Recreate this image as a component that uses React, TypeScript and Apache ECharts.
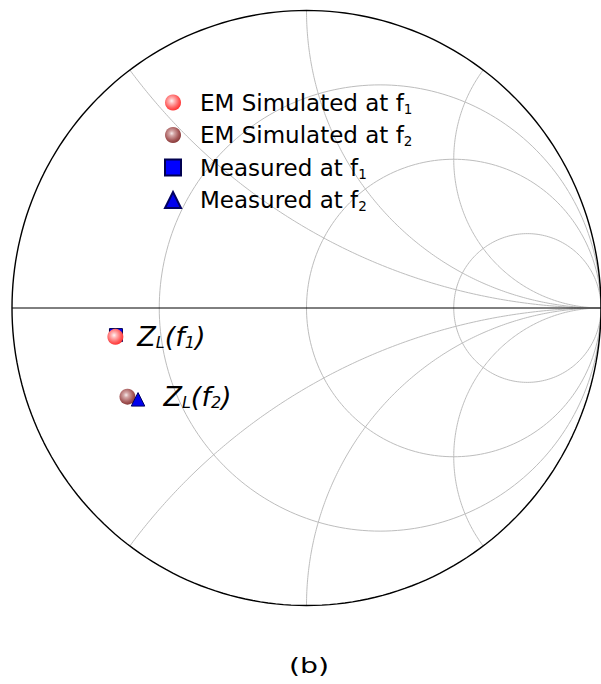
import React, { useEffect, useRef } from 'react';
import * as echarts from 'echarts';

// Smith chart grid: normalized resistance circles and reactance arcs
const resistanceCircles = [1 / 3, 1, 3];
const reactanceArcs = [0.5, 1, 2, -0.5, -1, -2];

// Reflection coefficients [Re Γ, Im Γ] of the load at both frequencies
const seriesNames = ['EM Simulated at f1', 'EM Simulated at f2', 'Measured at f1', 'Measured at f2'];
const simulatedF1 = [-0.649, -0.097];
const simulatedF2 = [-0.608, -0.298];
const measuredF1 = [-0.647, -0.091];
const measuredF2 = [-0.572, -0.307];
const loadLabels = ['{z|Z}{s|L}{z|(f}{s|1}{z|)}', '{z|Z}{s|L}{z|(f}{s|2}{z|)}'];
const caption = '(b)';

const FONT = '"DejaVu Sans", sans-serif';

function arcPoints(cx: number, cy: number, rad: number, a0: number, a1: number, n: number) {
  const pts: number[][] = [];
  for (let i = 0; i <= n; i++) {
    const a = a0 + ((a1 - a0) * i) / n;
    pts.push([cx + rad * Math.cos(a), cy + rad * Math.sin(a)]);
  }
  return pts;
}

// constant-resistance circle: centre r/(1+r), radius 1/(1+r)
function resistanceCircle(r: number) {
  return arcPoints(r / (1 + r), 0, 1 / (1 + r), 0, 2 * Math.PI, 240);
}

// constant-reactance arc from the open-circuit point to the rim
function reactanceArc(x: number) {
  const ax = Math.abs(x);
  let end = Math.atan2((ax * ax - 1) / ax, -2);
  if (end > -Math.PI / 2) end -= 2 * Math.PI;
  const pts = arcPoints(1, 1 / ax, 1 / ax, -Math.PI / 2, end, 200);
  return x < 0 ? pts.map(([u, v]) => [u, -v]) : pts;
}

function gridLine(data: number[][], color: string, width: number) {
  return {
    type: 'line',
    data,
    symbol: 'none',
    silent: true,
    clip: false,
    z: 1,
    lineStyle: { color, width },
    emphasis: { disabled: true },
  };
}

function sphere(inner: string, mid: string, outer: string, edge: string) {
  return {
    type: 'radial',
    x: 0.42,
    y: 0.4,
    r: 0.62,
    colorStops: [
      { offset: 0, color: inner },
      { offset: 0.25, color: mid },
      { offset: 0.7, color: outer },
      { offset: 1, color: edge },
    ],
  };
}

const labelRich = {
  z: { fontSize: 27, fontStyle: 'italic', fontFamily: FONT, color: '#000' },
  s: { fontSize: 16, fontStyle: 'italic', fontFamily: FONT, color: '#000', padding: [12, 0, 0, 0] },
};

export default function App() {
  const ref = useRef<HTMLDivElement>(null);

  useEffect(() => {
    if (!ref.current) return;
    const chart = echarts.init(ref.current, undefined, { renderer: 'svg' });

    const grid: any[] = [];
    resistanceCircles.forEach((r) => grid.push(gridLine(resistanceCircle(r), '#bdbdbd', 1)));
    reactanceArcs.forEach((x) => grid.push(gridLine(reactanceArc(x), '#bdbdbd', 1)));
    grid.push(gridLine(resistanceCircle(0), '#000', 1.4));
    grid.push(gridLine([[-1, 0], [1, 0]], '#000', 1));

    chart.setOption({
      animation: false,
      grid: { left: 12, top: 10.5, width: 595, height: 595 },
      xAxis: { type: 'value', min: -1, max: 1, show: false },
      yAxis: { type: 'value', min: -1, max: 1, show: false },
      legend: {
        data: seriesNames,
        orient: 'vertical',
        left: 164,
        top: 91,
        padding: 0,
        itemWidth: 16,
        itemHeight: 16,
        itemGap: 8,
        selectedMode: false,
        formatter: (name: string) => name.replace(/(\d)$/, '{s|$1}'),
        textStyle: {
          fontFamily: FONT,
          fontSize: 23,
          color: '#000',
          padding: [0, 0, 0, 14],
          rich: {
            s: { fontFamily: FONT, fontSize: 13.5, color: '#000', padding: [12, 0, 0, 0] },
          },
        },
      },
      graphic: [
        {
          type: 'text',
          x: 289,
          y: 655,
          scaleX: 1.35,
          style: {
            text: caption,
            font: '21px "DejaVu Sans", sans-serif',
            fill: '#000',
            textVerticalAlign: 'top',
          },
        },
      ],
      series: [
        ...grid,
        {
          name: seriesNames[0],
          type: 'scatter',
          symbol: 'circle',
          symbolSize: 16,
          z: 4,
          itemStyle: { opacity: 1, color: sphere('#fff4f4', '#ffb8b8', '#ff6060', '#ff3030') },
          data: [simulatedF1],
          label: {
            show: true,
            position: 'right',
            distance: 14,
            formatter: loadLabels[0],
            rich: labelRich,
          },
        },
        {
          name: seriesNames[1],
          type: 'scatter',
          symbol: 'circle',
          symbolSize: 16,
          z: 4,
          itemStyle: { opacity: 1, color: sphere('#f6eaea', '#d4a6a6', '#a65a5a', '#863838') },
          data: [simulatedF2],
          label: {
            show: true,
            position: 'right',
            distance: 28,
            formatter: loadLabels[1],
            rich: labelRich,
          },
        },
        {
          name: seriesNames[2],
          type: 'scatter',
          symbol: 'rect',
          symbolSize: 13,
          z: 3,
          itemStyle: { opacity: 1, color: '#0000ff', borderColor: '#000050', borderWidth: 1 },
          data: [measuredF1],
        },
        {
          name: seriesNames[3],
          type: 'scatter',
          symbol: 'triangle',
          symbolSize: 13.5,
          z: 5,
          itemStyle: { opacity: 1, color: '#0000ee', borderColor: '#000060', borderWidth: 1 },
          data: [measuredF2],
        },
      ],
    });

    return () => chart.dispose();
  }, []);

  return (
    <div
      ref={ref}
      style={{ position: 'absolute', left: 0, top: 0, width: 601, height: 684, background: '#fff' }}
    />
  );
}
